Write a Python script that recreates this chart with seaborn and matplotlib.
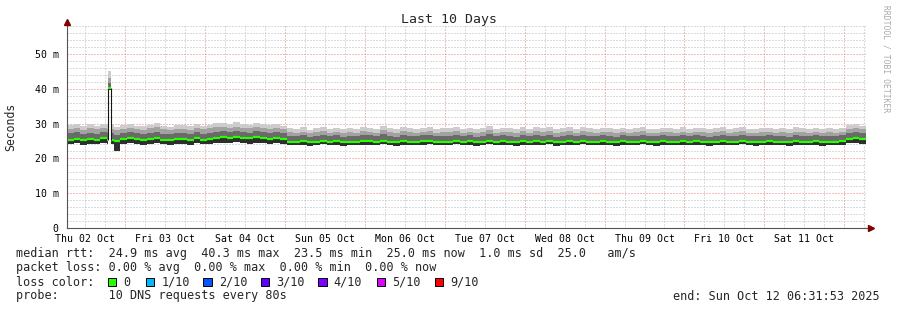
import numpy as np
import pandas as pd
import matplotlib
matplotlib.use("Agg")
import matplotlib.pyplot as plt
import matplotlib.dates as mdates
import seaborn as sns
from matplotlib.patches import Rectangle

# ---------------- data (2 h steps, ms) ----------------
start = "2025-10-02 06:31:53"
end = "2025-10-12 06:31:53"

median_ms = [
    25.4, 25.6, 25.2, 25.5, 25.3, 25.7, 25.4, 25.0, 25.6,
    25.9, 25.5, 25.3, 25.6, 25.8, 25.4, 25.2, 25.6, 25.5, 25.3, 25.7, 25.4,
    25.6, 25.9, 26.0, 25.8, 26.1, 25.9, 25.7, 26.0, 25.8, 25.6, 25.9, 25.5,
    24.8, 24.7, 24.9, 24.6, 24.8, 25.0, 24.7, 24.9, 24.6, 24.8, 24.7, 24.9,
    24.9, 24.7, 25.1, 24.8, 24.6, 25.0, 24.8, 24.7, 24.9, 25.0, 24.7, 24.8,
    24.8, 25.0, 24.7, 24.9, 24.6, 24.8, 25.1, 24.7, 24.9, 24.8, 24.6, 24.9,
    24.7, 24.9, 24.8, 25.0, 24.6, 24.8, 24.9, 24.7, 25.0, 24.8, 24.7, 24.9,
    24.8, 24.6, 24.9, 24.7, 24.8, 25.0, 24.7, 24.6, 24.9, 24.8, 24.7, 24.9,
    24.7, 24.9, 24.8, 24.6, 24.8, 24.9, 24.7, 24.8, 25.0, 24.7, 24.6, 24.8,
    24.9, 24.7, 24.8, 24.6, 24.9, 24.8, 24.7, 24.9, 24.6, 24.8, 24.7, 24.9,
    25.6, 25.8, 25.5,
]
min_ms = [
    24.1, 24.3, 23.9, 24.2, 24.0, 24.3, 24.2, 22.2, 24.1,
    24.3, 24.0, 23.9, 24.2, 24.4, 24.0, 23.8, 24.1, 24.2, 23.9, 24.3, 24.0,
    24.2, 24.4, 24.5, 24.3, 24.6, 24.4, 24.2, 24.5, 24.3, 24.1, 24.4, 24.0,
    23.8, 23.7, 23.9, 23.6, 23.8, 24.0, 23.7, 23.9, 23.6, 23.8, 23.7, 23.9,
    23.9, 23.7, 24.0, 23.8, 23.6, 23.9, 23.8, 23.7, 23.9, 24.0, 23.7, 23.8,
    23.8, 24.0, 23.7, 23.9, 23.6, 23.8, 24.0, 23.7, 23.9, 23.8, 23.6, 23.9,
    23.7, 23.9, 23.8, 24.0, 23.5, 23.8, 23.9, 23.7, 24.0, 23.8, 23.7, 23.9,
    23.8, 23.6, 23.9, 23.7, 23.8, 24.0, 23.7, 23.6, 23.9, 23.8, 23.7, 23.9,
    23.7, 23.9, 23.8, 23.6, 23.8, 23.9, 23.7, 23.8, 24.0, 23.7, 23.6, 23.8,
    23.9, 23.7, 23.8, 23.6, 23.9, 23.8, 23.7, 23.9, 23.6, 23.8, 23.7, 23.9,
    24.3, 24.5, 24.2,
]
q70_ms = [
    27.2, 27.5, 27.0, 27.4, 27.1, 27.6, 27.3, 26.8, 27.3,
    27.6, 27.2, 27.0, 27.4, 27.7, 27.1, 26.9, 27.3, 27.2, 27.0, 27.5, 27.1,
    27.4, 27.7, 27.8, 27.5, 27.9, 27.6, 27.4, 27.8, 27.5, 27.3, 27.6, 27.2,
    26.5, 26.3, 26.7, 26.2, 26.5, 26.8, 26.4, 26.6, 26.2, 26.5, 26.3, 26.7,
    26.6, 26.3, 26.9, 26.5, 26.2, 26.7, 26.5, 26.3, 26.6, 26.8, 26.4, 26.5,
    26.5, 26.8, 26.3, 26.6, 26.2, 26.5, 26.9, 26.4, 26.6, 26.5, 26.2, 26.7,
    26.4, 26.7, 26.5, 26.8, 26.2, 26.5, 26.7, 26.4, 26.8, 26.5, 26.3, 26.6,
    26.5, 26.2, 26.6, 26.4, 26.5, 26.8, 26.4, 26.3, 26.6, 26.5, 26.4, 26.7,
    26.4, 26.6, 26.5, 26.2, 26.5, 26.7, 26.4, 26.5, 26.8, 26.4, 26.3, 26.5,
    26.6, 26.4, 26.5, 26.2, 26.7, 26.5, 26.4, 26.6, 26.3, 26.5, 26.4, 26.6,
    27.3, 27.6, 27.2,
]
q90_ms = [
    28.4, 28.7, 28.2, 28.6, 28.3, 28.8, 28.5, 28.0, 28.5,
    28.8, 28.4, 28.2, 28.6, 28.9, 28.3, 28.1, 28.5, 28.4, 28.2, 28.7, 28.3,
    28.6, 28.9, 29.0, 28.7, 29.1, 28.8, 28.6, 29.0, 28.7, 28.5, 28.8, 28.4,
    27.5, 27.3, 27.7, 27.2, 27.6, 27.9, 27.4, 27.7, 27.2, 27.5, 27.3, 27.8,
    27.6, 27.3, 28.0, 27.5, 27.2, 27.8, 27.5, 27.3, 27.6, 27.9, 27.4, 27.5,
    27.5, 27.9, 27.3, 27.6, 27.2, 27.5, 28.0, 27.4, 27.6, 27.5, 27.2, 27.8,
    27.4, 27.8, 27.5, 27.9, 27.2, 27.5, 27.8, 27.4, 27.9, 27.5, 27.3, 27.6,
    27.5, 27.2, 27.6, 27.4, 27.5, 27.9, 27.4, 27.3, 27.6, 27.5, 27.4, 27.7,
    27.4, 27.6, 27.5, 27.2, 27.5, 27.8, 27.4, 27.5, 27.9, 27.4, 27.3, 27.5,
    27.6, 27.4, 27.5, 27.2, 27.7, 27.5, 27.4, 27.6, 27.3, 27.5, 27.4, 27.6,
    28.4, 28.7, 28.3,
]
max_ms = [
    29.5, 29.8, 29.2, 29.9, 29.4, 30.0, 29.6, 29.1, 29.6,
    29.9, 29.4, 29.2, 29.7, 30.1, 29.3, 29.1, 29.6, 29.5, 29.2, 29.8, 29.4,
    29.7, 30.1, 30.2, 29.8, 30.3, 29.9, 29.6, 30.1, 29.8, 29.5, 29.9, 29.4,
    28.6, 28.3, 28.9, 28.2, 28.7, 29.1, 28.4, 28.8, 28.3, 28.6, 28.4, 29.0,
    28.7, 28.4, 29.2, 28.6, 28.3, 28.9, 28.6, 28.4, 28.8, 29.1, 28.5, 28.6,
    28.6, 29.1, 28.4, 28.7, 28.3, 28.6, 29.3, 28.5, 28.8, 28.6, 28.3, 28.9,
    28.5, 28.9, 28.6, 29.1, 28.3, 28.6, 29.0, 28.5, 29.1, 28.6, 28.4, 28.8,
    28.6, 28.3, 28.8, 28.5, 28.6, 29.0, 28.5, 28.4, 28.8, 28.6, 28.5, 28.9,
    28.5, 28.8, 28.6, 28.3, 28.6, 29.0, 28.5, 28.6, 29.1, 28.5, 28.4, 28.6,
    28.8, 28.5, 28.6, 28.3, 28.9, 28.6, 28.5, 28.8, 28.4, 28.6, 28.5, 28.8,
    29.5, 29.8, 29.4,
]

# short latency spike (one 1-hour sample)
spike_start = "2025-10-02 18:50:00"
spike_end = "2025-10-02 19:50:00"
spike_min_ms = 39.7
spike_median_ms = 40.3
spike_q70_ms = 41.6
spike_q90_ms = 43.2
spike_max_ms = 45.0

day_labels = ["Thu 02 Oct", "Fri 03 Oct", "Sat 04 Oct", "Sun 05 Oct", "Mon 06 Oct",
              "Tue 07 Oct", "Wed 08 Oct", "Thu 09 Oct", "Fri 10 Oct", "Sat 11 Oct"]
y_ticks = [0, 10, 20, 30, 40, 50]
y_tick_labels = ["0", "10 m", "20 m", "30 m", "40 m", "50 m"]
loss_labels = ["0", "1/10", "2/10", "3/10", "4/10", "5/10", "9/10"]
loss_colors = ["#26ff00", "#00b8ff", "#0059ff", "#5e00ff", "#7e00ff", "#dd00ff", "#ff0000"]

title = "Last 10 Days"
stats_line = "median rtt:  24.9 ms avg  40.3 ms max  23.5 ms min  25.0 ms now  1.0 ms sd  25.0   am/s"
loss_line = "packet loss: 0.00 % avg  0.00 % max  0.00 % min  0.00 % now"
probe_line = "probe:       10 DNS requests every 80s"
end_line = "end: Sun Oct 12 06:31:53 2025"

# ---------------- figure ----------------
sns.set_theme(style="white")
plt.rcParams['font.family'] = ['DejaVu Sans Mono']

W, H = 897, 310
fig = plt.figure(figsize=(W / 100, H / 100), dpi=100, facecolor="white")
L, R, T, B = 67, 866, 26, 228
ax = fig.add_axes([L / W, 1 - B / H, (R - L) / W, (B - T) / H])
ax.set_facecolor("white")


def dnum(s):
    return mdates.date2num(pd.Timestamp(s).to_pydatetime())


n = len(median_ms)
t = pd.date_range(start, periods=n + 1, freq="2h")
tnum = mdates.date2num(t.to_pydatetime())
t0, t1 = dnum(start), dnum(end)

# grid (dotted)
grid_gray = "#b8b8b8"
grid_red = "#ee7a7a"
for h in pd.date_range("2025-10-02 12:00", end, freq="6h"):
    xv = mdates.date2num(h.to_pydatetime())
    c = grid_red if h.hour == 0 else grid_gray
    ax.axvline(xv, color=c, lw=0.72, dashes=(1, 2), zorder=1)
for yv in range(2, 59, 2):
    c = grid_red if yv % 10 == 0 else grid_gray
    ax.axhline(yv, color=c, lw=0.72, dashes=(1, 2), zorder=1)


def ext(a):
    return list(a) + [a[-1]]


smoke_cols = ["#2e2e2e", "#6a6a6a", "#a2a2a2", "#cccccc"]
levels = [min_ms, median_ms, q70_ms, q90_ms, max_ms]
for k in range(4):
    ax.fill_between(tnum, ext(levels[k]), ext(levels[k + 1]), step="post",
                    color=smoke_cols[k], lw=0, zorder=2)

seg = pd.DataFrame({
    "time": np.concatenate([tnum[:-1], tnum[1:]]),
    "rtt": list(median_ms) * 2,
    "seg": list(range(n)) * 2,
})
sns.lineplot(data=seg, x="time", y="rtt", units="seg", estimator=None,
             color=loss_colors[0], lw=1.6, ax=ax, legend=False, zorder=4,
             solid_capstyle="butt")

# spike sample
s0, s1 = dnum(spike_start), dnum(spike_end)
k_sp = int(np.searchsorted(tnum, s0, side="right") - 1)
ax.fill_between([s0, s1], min_ms[k_sp] - 0.6, max_ms[k_sp] + 0.2, color="white", lw=0, zorder=4.5)
sp_levels = [spike_min_ms, spike_median_ms, spike_q70_ms, spike_q90_ms, spike_max_ms]
for k in range(4):
    ax.fill_between([s0, s1], sp_levels[k], sp_levels[k + 1], color=smoke_cols[k], lw=0, zorder=5)
ax.vlines([s0, s1], median_ms[k_sp], spike_median_ms, color="#151515", lw=0.8, zorder=5)
sns.lineplot(x=[s0, s1], y=[spike_median_ms] * 2, color=loss_colors[0], lw=1.6, ax=ax,
             zorder=6, solid_capstyle="butt")

ax.set_xlim(t0, t1)
ax.set_ylim(0, 58)
ax.set_xlabel("")
ax.set_ylabel("")

noons = [mdates.date2num(d.to_pydatetime()) for d in pd.date_range("2025-10-02 12:00", periods=10, freq="D")]
ax.set_xticks(noons, day_labels)
ax.set_yticks(y_ticks, y_tick_labels)
ax.tick_params(axis="both", length=0, labelsize=7.1, colors="black")
ax.tick_params(axis="x", pad=4)
ax.tick_params(axis="y", pad=6)
ax.grid(False)

for s in ["top", "right"]:
    ax.spines[s].set_visible(False)
for s in ["left", "bottom"]:
    ax.spines[s].set_color("#555555")
    ax.spines[s].set_linewidth(0.8)
    ax.spines[s].set_zorder(7)

# arrows
arrow_c = "#7f0000"
ax.plot([0, 0], [1.0, 1.02], transform=ax.transAxes, color="#555555", lw=0.8, clip_on=False)
ax.plot([0], [1.02], marker="^", ms=4, color=arrow_c, transform=ax.transAxes, clip_on=False)
ax.plot([1.0, 1.004], [0, 0], transform=ax.transAxes, color="#555555", lw=0.8, clip_on=False)
ax.plot([1.006], [0], marker=">", ms=4, color=arrow_c, transform=ax.transAxes, clip_on=False)

# texts
fig.text(448.5 / W, 1 - 19 / H, title, ha="center", va="center", fontsize=9.5)
fig.text(11 / W, 1 - 127 / H, "Seconds", rotation=90, ha="center", va="center", fontsize=8.3)
fig.text(886 / W, 1 - 59 / H, "RRDTOOL / TOBI OETIKER", rotation=270, ha="center", va="center",
         fontsize=5.8, color="#aaaaaa")

fs = 8.5
fig.text(16 / W, 1 - 254 / H, stats_line, ha="left", va="center", fontsize=fs)
fig.text(16 / W, 1 - 268 / H, loss_line, ha="left", va="center", fontsize=fs)
fig.text(16 / W, 1 - 282 / H, "loss color:", ha="left", va="center", fontsize=fs)
fig.text(16 / W, 1 - 296 / H, probe_line, ha="left", va="center", fontsize=fs)
fig.text(880 / W, 1 - 296 / H, end_line, ha="right", va="center", fontsize=fs)

box_x = [107.7, 145.7, 203.3, 260.7, 318.3, 376.7, 435.0]
bs = 8.3
for bx, lab, c in zip(box_x, loss_labels, loss_colors):
    fig.add_artist(Rectangle((bx / W, 1 - (282 + bs / 2) / H), bs / W, bs / H,
                             facecolor=c, edgecolor="black", lw=0.7,
                             transform=fig.transFigure))
    fig.text((bx + 15.5) / W, 1 - 282 / H, lab, ha="left", va="center", fontsize=fs)

fig.savefig("out.png", dpi=100, facecolor="white")
